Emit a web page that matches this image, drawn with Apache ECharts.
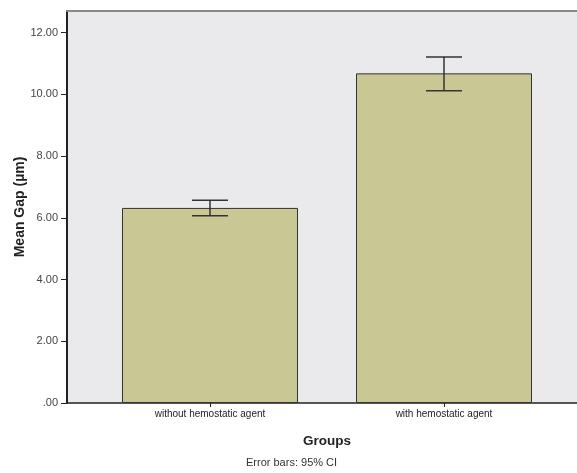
<!DOCTYPE html>
<html>
<head>
<meta charset="utf-8">
<script src="https://cdn.jsdelivr.net/npm/echarts@6/dist/echarts.min.js"></script>
<style>html,body{margin:0;padding:0;background:#fff;}#c{width:577px;height:473px;}</style>
</head>
<body>
<div id="c"></div>
<script>
const categories = ['without hemostatic agent', 'with hemostatic agent'];
const means = [6.32, 10.68];
const ciLower = [6.07, 10.12];
const ciUpper = [6.57, 11.21];
const yTicks = [0, 2, 4, 6, 8, 10, 12];

const FONT = '"Liberation Sans", Arial, sans-serif';
const Y_MAX = 12.7;
const chart = echarts.init(document.getElementById('c'));

const errData = categories.map((c, i) => [i, ciLower[i], ciUpper[i]]);

chart.setOption({
  animation: false,
  backgroundColor: '#ffffff',
  grid: [
    { left: 67, right: 0, top: 11, bottom: 70, show: true, backgroundColor: '#EAEAEC', borderWidth: 0,
      containLabel: false, outerBoundsMode: 'none' },
    { left: 93, right: 16, top: 11, bottom: 70, containLabel: false, outerBoundsMode: 'none' }
  ],
  xAxis: [
    { gridIndex: 0, type: 'category', data: ['', ''], position: 'bottom',
      axisLine: { lineStyle: { color: '#222', width: 1.5 } }, axisTick: { show: false }, axisLabel: { show: false } },
    { gridIndex: 0, type: 'category', data: ['', ''], position: 'top',
      axisLine: { lineStyle: { color: '#8a8a8a', width: 2 } }, axisTick: { show: false }, axisLabel: { show: false } },
    { gridIndex: 1, type: 'category', data: categories, position: 'bottom',
      axisLine: { show: false },
      axisTick: { show: true, alignWithLabel: true, length: 4, lineStyle: { color: '#222' } },
      axisLabel: { fontFamily: FONT, fontSize: 10, color: '#222', margin: 6 },
      name: 'Groups', nameLocation: 'middle', nameGap: 31, nameMoveOverlap: false,
      nameTextStyle: { fontFamily: FONT, fontSize: 13.5, fontWeight: 'bold', color: '#222' } }
  ],
  yAxis: [
    { gridIndex: 0, type: 'value', min: 0, max: Y_MAX, interval: 2,
      axisLine: { show: true, lineStyle: { color: '#222', width: 2 } },
      axisTick: { show: true, length: 6, lineStyle: { color: '#222' } },
      splitLine: { show: false },
      axisLabel: { showMaxLabel: false, fontFamily: FONT, fontSize: 11, color: '#444', margin: 9,
        formatter: v => v === 0 ? '.00' : v.toFixed(2) },
      name: 'Mean Gap (µm)', nameLocation: 'middle', nameGap: 40, nameRotate: 90, nameMoveOverlap: false,
      nameTextStyle: { fontFamily: FONT, fontSize: 14, fontWeight: 'bold', color: '#222' } },
    { gridIndex: 1, type: 'value', min: 0, max: Y_MAX, interval: 2, show: false, splitLine: { show: false } }
  ],
  series: [
    { type: 'bar', xAxisIndex: 2, yAxisIndex: 1, data: means, barWidth: 176,
      itemStyle: { color: '#C9C894', borderColor: '#333', borderWidth: 1 } },
    { type: 'custom', xAxisIndex: 2, yAxisIndex: 1, data: errData, z: 10,
      renderItem: function (params, api) {
        const x = api.coord([api.value(0), 0])[0];
        const lo = api.coord([api.value(0), api.value(1)])[1];
        const hi = api.coord([api.value(0), api.value(2)])[1];
        const w = 18;
        const st = { stroke: '#333', lineWidth: 1.5 };
        return { type: 'group', children: [
          { type: 'line', shape: { x1: x, y1: lo, x2: x, y2: hi }, style: st },
          { type: 'line', shape: { x1: x - w, y1: hi, x2: x + w, y2: hi }, style: st },
          { type: 'line', shape: { x1: x - w, y1: lo, x2: x + w, y2: lo }, style: st }
        ] };
      } }
  ],
  graphic: [
    { type: 'text', left: 246, top: 457,
      style: { text: 'Error bars: 95% CI', font: '11px ' + FONT, fill: '#333' } }
  ]
});
</script>
</body>
</html>
